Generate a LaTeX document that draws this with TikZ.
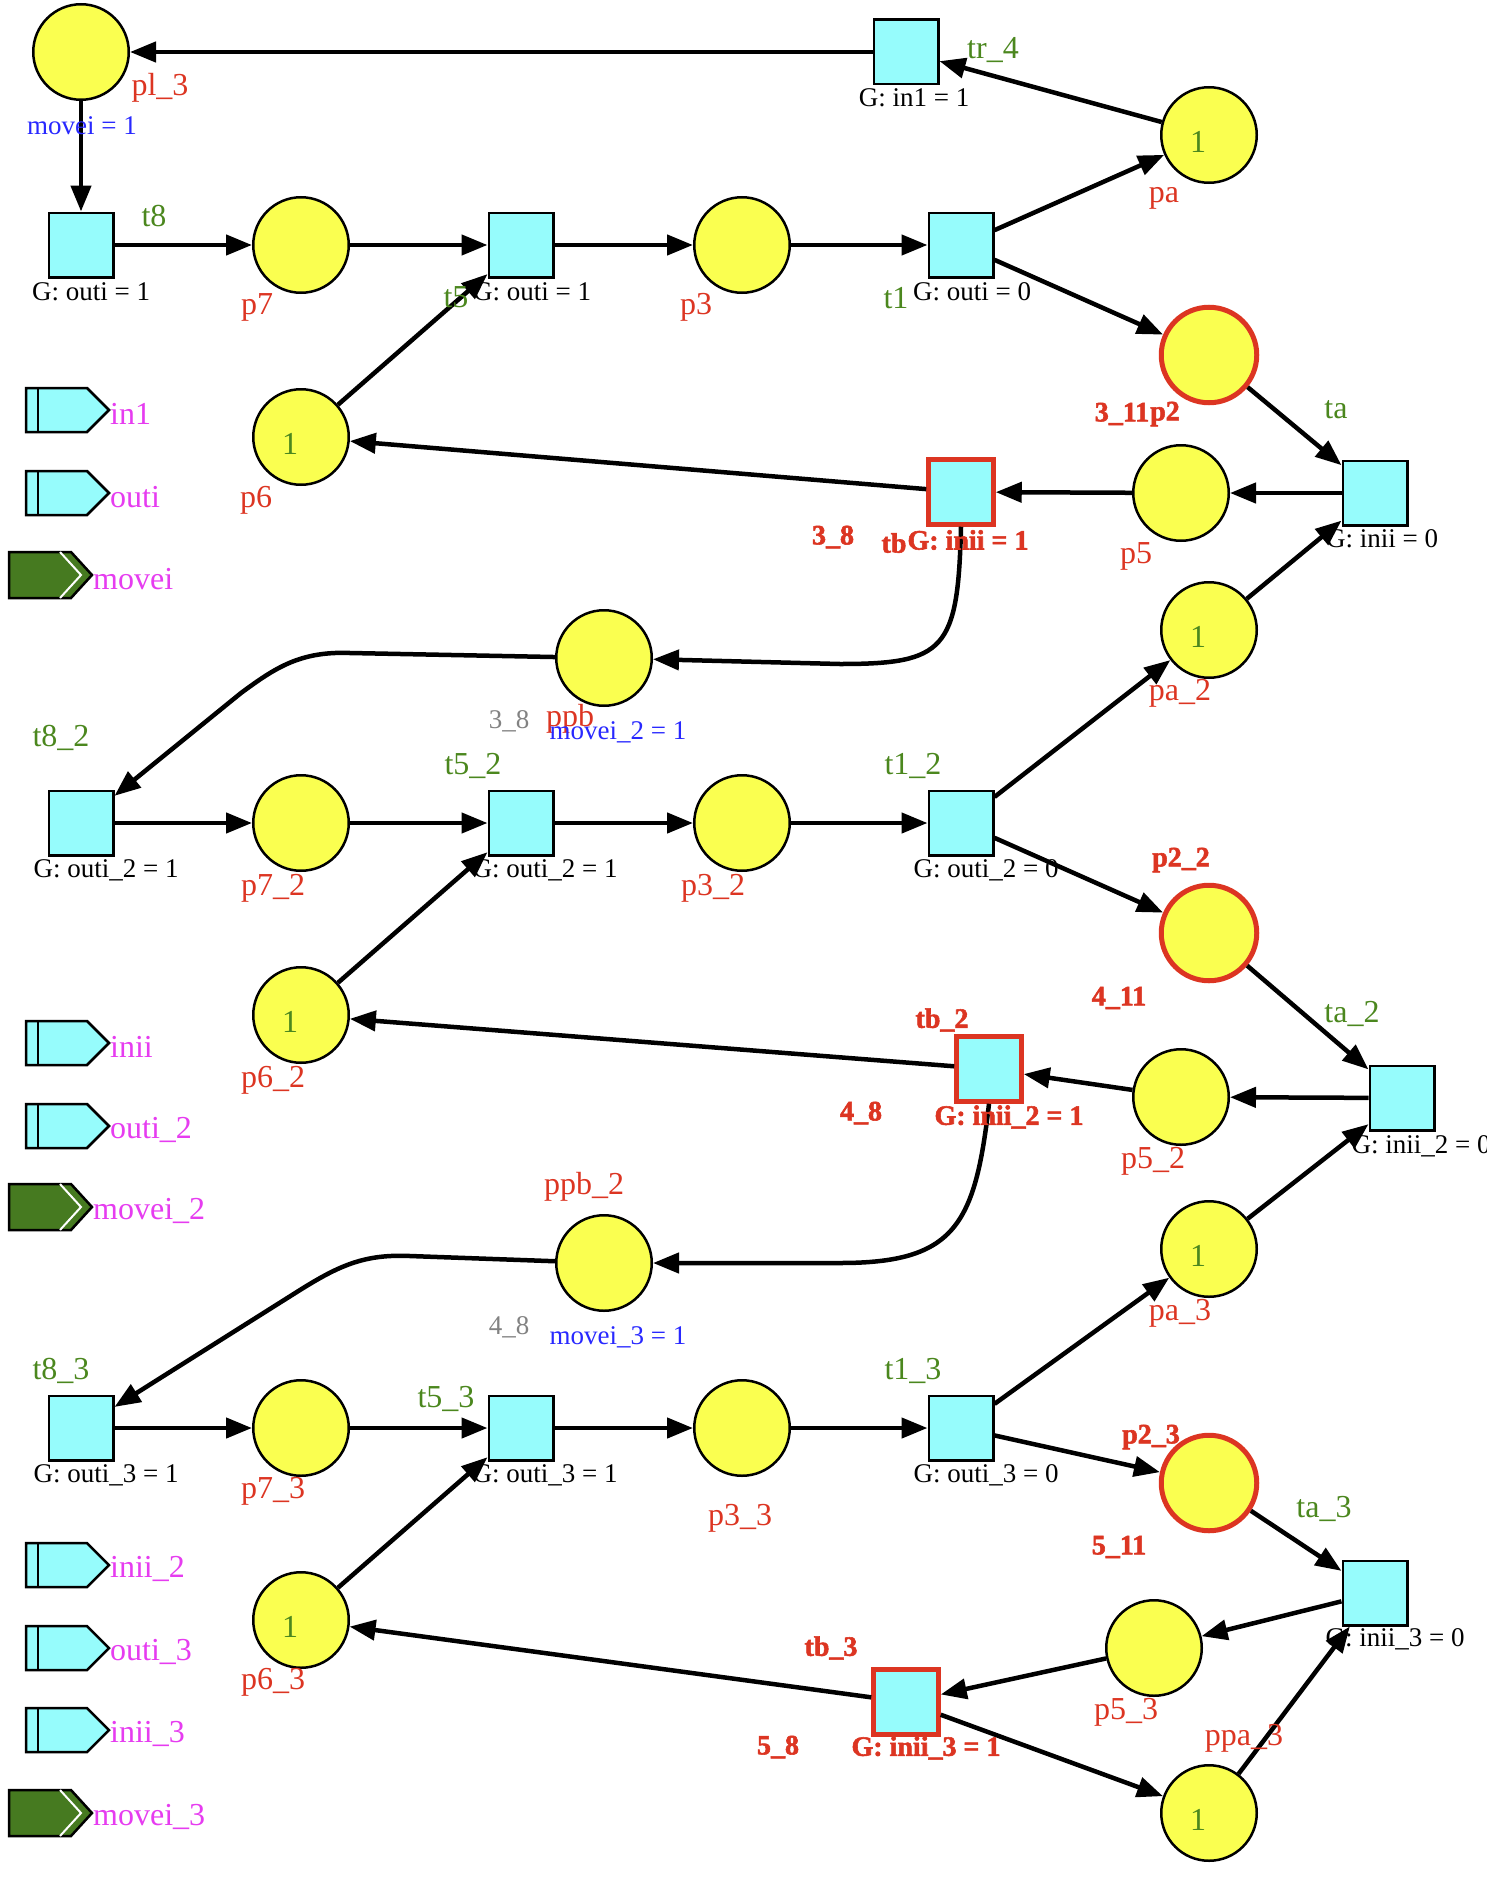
\documentclass[tikz,border=0pt]{standalone}
\usepackage{fontspec}
\setmainfont{Liberation Serif}
\newfontfamily\heavyfont{Liberation Serif Bold}[FakeBold=2]
\usepackage{tikz}
\usetikzlibrary{
	arrows.meta,
	positioning,
}
\definecolor{plfill}{RGB}{250,255,80}
\definecolor{trfill}{RGB}{150,252,252}
\definecolor{hotred}{RGB}{220,53,34}
\definecolor{tgreen}{RGB}{75,135,30}
\definecolor{legreen}{RGB}{70,122,32}
\definecolor{arcblue}{RGB}{40,40,255}
\definecolor{portmag}{RGB}{230,60,240}
\definecolor{softgray}{RGB}{130,130,130}
\tikzset{place/.style={
	draw,
	circle,
	fill=plfill,
	inner sep=0mm,
	minimum size=95.5pt,
	line width=2.5pt,
}}
\tikzset{trans/.style={
	draw,
	rectangle,
	fill=trfill,
	inner sep=0mm,
	minimum size=64.5pt,
	line width=2.5pt,
}}
\tikzset{hot/.style={
	draw=hotred,
	line width=5pt,
}}
\tikzset{arc/.style={
	-{Triangle[length=26pt,width=20pt]},
	line width=4.5pt,
}}
\tikzset{pname/.style={
	text=hotred,
	font=\fontsize{32}{36}\selectfont,
}}
\tikzset{tname/.style={
	text=tgreen,
	font=\fontsize{32}{36}\selectfont,
}}
\tikzset{token/.style={
	text=tgreen,
	font=\fontsize{32}{36}\selectfont,
}}
\tikzset{guard/.style={
	font=\fontsize{27}{30}\selectfont,
}}
\tikzset{hotname/.style={
	text=hotred,
	font=\heavyfont\fontsize{28}{32}\selectfont,
}}
\tikzset{inscr/.style={
	text=arcblue,
	font=\fontsize{27}{30}\selectfont,
}}
\tikzset{dimtag/.style={
	text=softgray,
	font=\fontsize{27}{30}\selectfont,
}}

\begin{document}
\begin{tikzpicture}[x=1pt,y=-1pt,every node/.style={inner sep=0pt}]
\useasboundingbox (0,0) rectangle (1486,1900);

% first copy
\node[place](pl3) 		at (81,52) {};
\node[trans](tr4) 		at (906,52) {};
\node[place](pa) 		at (1209,135) {};
\node[trans](t8) 		at (81,245) {};
\node[place](p7) 		at (301,245) {};
\node[trans](t5) 		at (521,245) {};
\node[place](p3) 		at (742,245) {};
\node[trans](t1) 		at (961,245) {};
\node[place,hot](p2) 	at (1209,355) {};
\node[trans](ta) 		at (1375,493) {};
\node[place](p5) 		at (1181,493) {};
\node[trans,hot](tb) 	at (961,492) {};
\node[place](p6) 		at (301,437) {};
\node[place](ppb) 		at (604,658) {};

% second copy
\node[place](pa-2) 		at (1209,630) {};
\node[trans](t8-2) 		at (81,823) {};
\node[place](p7-2) 		at (301,823) {};
\node[trans](t5-2) 		at (521,823) {};
\node[place](p3-2) 		at (742,823) {};
\node[trans](t1-2) 		at (961,823) {};
\node[place,hot](p2-2) 	at (1209,933) {};
\node[trans](ta-2) 		at (1402,1098) {};
\node[place](p5-2) 		at (1181,1097) {};
\node[trans,hot](tb-2) 	at (989,1069) {};
\node[place](p6-2) 		at (301,1015) {};
\node[place](ppb-2) 	at (604,1263) {};

% third copy
\node[place](pa-3) 		at (1209,1249) {};
\node[trans](t8-3) 		at (81,1428) {};
\node[place](p7-3) 		at (301,1428) {};
\node[trans](t5-3) 		at (521,1428) {};
\node[place](p3-3) 		at (742,1428) {};
\node[trans](t1-3) 		at (961,1428) {};
\node[place,hot](p2-3) 	at (1209,1483) {};
\node[trans](ta-3) 		at (1375,1593) {};
\node[place](p5-3) 		at (1154,1648) {};
\node[trans,hot](tb-3) 	at (906,1702) {};
\node[place](p6-3) 		at (301,1620) {};
\node[place](ppa-3) 	at (1209,1813) {};

% tokens
\node[token](pa-tok) 	at (1198,142) {1};
\node[token](p6-tok) 	at (290,444) {1};
\node[token](pa-2-tok) 	at (1198,637) {1};
\node[token](p6-2-tok) 	at (290,1022) {1};
\node[token](pa-3-tok) 	at (1198,1256) {1};
\node[token](p6-3-tok) 	at (290,1627) {1};
\node[token](ppa-3-tok) at (1198,1820) {1};

% arcs, first copy
\draw[arc] (tr4) -- (pl3);
\draw[arc] (pa) -- (tr4);
\draw[arc] (pl3) -- (t8);
\draw[arc] (t8) -- (p7);
\draw[arc] (p7) -- (t5);
\draw[arc] (t5) -- (p3);
\draw[arc] (p3) -- (t1);
\draw[arc] (t1) -- (pa);
\draw[arc] (t1) -- (p2);
\draw[arc] (p2) -- (ta);
\draw[arc] (ta) -- (p5);
\draw[arc] (p5) -- (tb);
\draw[arc] (tb) -- (p6);
\draw[arc] (p6) -- (t5);
\draw[arc] (pa-2) -- (ta);
\draw[arc] (tb.south) .. controls (958,650) and (945,664) .. (840,664) -- (ppb);
\draw[arc] (ppb) -- (350,653) .. controls (300,651) and (275,668) .. (241,693) -- (t8-2);

% arcs, second copy
\draw[arc] (t8-2) -- (p7-2);
\draw[arc] (p7-2) -- (t5-2);
\draw[arc] (t5-2) -- (p3-2);
\draw[arc] (p3-2) -- (t1-2);
\draw[arc] (t1-2) -- (pa-2);
\draw[arc] (t1-2) -- (p2-2);
\draw[arc] (p2-2) -- (ta-2);
\draw[arc] (ta-2) -- (p5-2);
\draw[arc] (p5-2) -- (tb-2);
\draw[arc] (tb-2) -- (p6-2);
\draw[arc] (p6-2) -- (t5-2);
\draw[arc] (pa-3) -- (ta-2);
\draw[arc] (tb-2.south) .. controls (975,1225) and (955,1263) .. (840,1263) -- (ppb-2);
\draw[arc] (ppb-2) -- (410,1256) .. controls (365,1254) and (340,1265) .. (300,1290) -- (t8-3);

% arcs, third copy
\draw[arc] (t8-3) -- (p7-3);
\draw[arc] (p7-3) -- (t5-3);
\draw[arc] (t5-3) -- (p3-3);
\draw[arc] (p3-3) -- (t1-3);
\draw[arc] (t1-3) -- (pa-3);
\draw[arc] (t1-3) -- (p2-3);
\draw[arc] (p2-3) -- (ta-3);
\draw[arc] (ta-3) -- (p5-3);
\draw[arc] (p5-3) -- (tb-3);
\draw[arc] (tb-3) -- (p6-3);
\draw[arc] (p6-3) -- (t5-3);
\draw[arc] (tb-3) -- (ppa-3);
\draw[arc] (ppa-3) -- (ta-3);

% place names
\node[pname](pl3-l) 	at (160,88) {pl\_3};
\node[pname](pa-l) 		at (1164,198) {pa};
\node[pname](p7-l) 		at (257,307) {p7};
\node[pname](p3-l) 		at (696,307) {p3};
\node[pname](p5-l) 		at (1136,556) {p5};
\node[pname](p6-l) 		at (256,500) {p6};
\node[pname](ppb-l) 	at (570,719) {ppb};
\node[pname](pa-2-l) 	at (1180,693) {pa\_2};
\node[pname](p7-2-l) 	at (273,888) {p7\_2};
\node[pname](p3-2-l) 	at (713,888) {p3\_2};
\node[pname](p5-2-l) 	at (1153,1161) {p5\_2};
\node[pname](p6-2-l) 	at (273,1080) {p6\_2};
\node[pname](ppb-2-l) 	at (584,1187) {ppb\_2};
\node[pname](pa-3-l) 	at (1180,1313) {pa\_3};
\node[pname](p7-3-l) 	at (273,1491) {p7\_3};
\node[pname](p3-3-l) 	at (740,1518) {p3\_3};
\node[pname](p5-3-l) 	at (1126,1712) {p5\_3};
\node[pname](p6-3-l) 	at (273,1682) {p6\_3};
\node[pname](ppa-3-l) 	at (1244,1738) {ppa\_3};

% transition names
\node[tname](tr4-l) 	at (993,50) {tr\_4};
\node[tname](t8-l) 		at (154,216) {t8};
\node[tname](t5-l) 		at (456,297) {t5};
\node[tname](t1-l) 		at (896,298) {t1};
\node[tname](ta-l) 		at (1336,410) {ta};
\node[tname](t8-2-l) 	at (61,738) {t8\_2};
\node[tname](t5-2-l) 	at (473,766) {t5\_2};
\node[tname](t1-2-l) 	at (913,766) {t1\_2};
\node[tname](ta-2-l) 	at (1352,1014) {ta\_2};
\node[tname](t8-3-l) 	at (61,1371) {t8\_3};
\node[tname](t5-3-l) 	at (446,1399) {t5\_3};
\node[tname](t1-3-l) 	at (913,1371) {t1\_3};
\node[tname](ta-3-l) 	at (1324,1509) {ta\_3};

% guards
\node[guard](tr4-g) 	at (914,98) {G: in1 = 1};
\node[guard](t8-g) 		at (91,292) {G: outi = 1};
\node[guard](t5-g) 		at (532,292) {G: outi = 1};
\node[guard](t1-g) 		at (972,292) {G: outi = 0};
\node[guard](ta-g) 		at (1382,539) {G: inii = 0};
\node[guard](t8-2-g) 	at (106,870) {G: outi\_2 = 1};
\node[guard](t5-2-g) 	at (545,870) {G: outi\_2 = 1};
\node[guard](t1-2-g) 	at (986,870) {G: outi\_2 = 0};
\node[guard](ta-2-g) 	at (1421,1146) {G: inii\_2 = 0};
\node[guard](t8-3-g) 	at (106,1475) {G: outi\_3 = 1};
\node[guard](t5-3-g) 	at (545,1475) {G: outi\_3 = 1};
\node[guard](t1-3-g) 	at (986,1475) {G: outi\_3 = 0};
\node[guard](ta-3-g) 	at (1395,1639) {G: inii\_3 = 0};

% highlighted names
\node[hotname](p2-n) 	at (1122,414) {3\_11};
\node[hotname](p2-l) 	at (1165,414) {p2};
\node[hotname](tb-n) 	at (833,537) {3\_8};
\node[hotname](tb-l) 	at (894,543) {tb};
\node[hotname](tb-g) 	at (968,540) {G: inii = 1};
\node[hotname](p2-2-l) 	at (1181,860) {p2\_2};
\node[hotname](p2-2-n) 	at (1119,998) {4\_11};
\node[hotname](tb-2-l) 	at (942,1020) {tb\_2};
\node[hotname](tb-2-n) 	at (861,1113) {4\_8};
\node[hotname](tb-2-g) 	at (1009,1117) {G: inii\_2 = 1};
\node[hotname](p2-3-l) 	at (1151,1437) {p2\_3};
\node[hotname](p2-3-n) 	at (1119,1547) {5\_11};
\node[hotname](tb-3-l) 	at (831,1648) {tb\_3};
\node[hotname](tb-3-n) 	at (778,1747) {5\_8};
\node[hotname](tb-3-g) 	at (926,1748) {G: inii\_3 = 1};

% arc inscriptions
\node[inscr](mv1) 		at (82,126) {movei = 1};
\node[dimtag](ppb-n) 	at (509,721) {3\_8};
\node[inscr](mv2) 		at (618,732) {movei\_2 = 1};
\node[dimtag](ppb-2-n) 	at (509,1327) {4\_8};
\node[inscr](mv3) 		at (618,1337) {movei\_3 = 1};

% ports
\newcommand{\legport}[3]{
\draw[line width=2.5pt, fill=trfill] (26,#2-22) -- (87,#2-22) -- (109,#2) -- (87,#2+22) -- (26,#2+22) -- cycle;
\draw[line width=2.5pt] (38,#2-22) -- (38,#2+22);
\node[pname, text=portmag, anchor=west](#1) at (110,#2+4) {#3};
}
\newcommand{\legmove}[3]{
\draw[line width=2.5pt, fill=legreen] (9,#2-23) -- (71,#2-23) -- (92,#2) -- (71,#2+23) -- (9,#2+23) -- cycle;
\draw[white, line width=2pt] (60,#2-23) -- (81,#2) -- (60,#2+23);
\node[pname, text=portmag, anchor=west](#1) at (93,#2+4) {#3};
}

\legport{in1}{410}{in1}
\legport{outi}{493}{outi}
\legmove{movei}{575}{movei}
\legport{inii}{1043}{inii}
\legport{outi-2}{1126}{outi\_2}
\legmove{movei-2}{1207}{movei\_2}
\legport{inii-2}{1565}{inii\_2}
\legport{outi-3}{1648}{outi\_3}
\legport{inii-3}{1730}{inii\_3}
\legmove{movei-3}{1813}{movei\_3}

\end{tikzpicture}
\end{document}
